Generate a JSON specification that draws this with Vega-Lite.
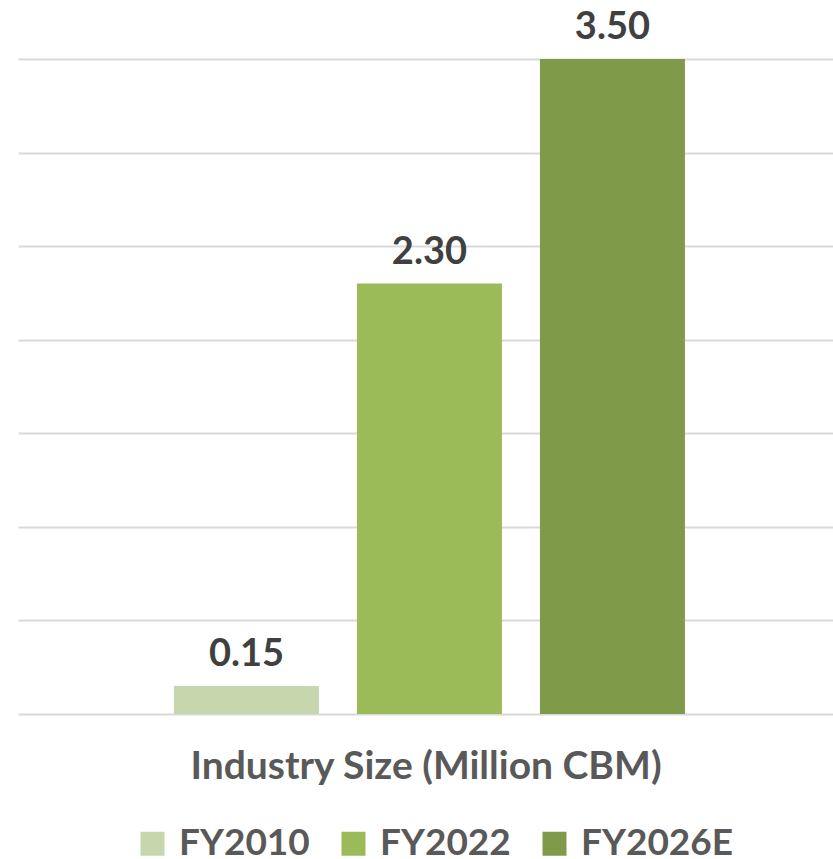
{
  "$schema": "https://vega.github.io/schema/vega-lite/v6.json",
  "width": 815,
  "height": 655,
  "autosize": {"type": "none"},
  "padding": {"left": 18, "top": 59, "right": 0, "bottom": 145},
  "background": "white",
  "config": {"view": {"stroke": null}, "font": "Lato"},
  "data": {"values": [
    {"series": "FY2010", "value": 0.15},
    {"series": "FY2022", "value": 2.30},
    {"series": "FY2026E", "value": 3.50}
  ]},
  "encoding": {
    "x": {
      "field": "series", "type": "nominal", "sort": ["FY2010", "FY2022", "FY2026E"],
      "scale": {"paddingInner": 0.2077, "paddingOuter": 0.8307, "align": 0.513},
      "axis": {
        "title": "Industry Size (Million CBM)", "labels": false, "ticks": false, "domain": false,
        "titleFont": "Lato", "titleFontSize": 39, "titleFontWeight": "bold", "titleColor": "#595959",
        "titlePadding": 33
      }
    },
    "y": {
      "field": "value", "type": "quantitative",
      "scale": {"domain": [0, 3.5], "nice": false},
      "axis": {
        "title": null, "labels": false, "ticks": false, "domain": false,
        "values": [0, 0.5, 1, 1.5, 2, 2.5, 3, 3.5],
        "grid": true, "gridColor": "#d9d9d9", "gridWidth": 2
      }
    }
  },
  "layer": [
    {
      "mark": {"type": "bar"},
      "encoding": {
        "color": {
          "field": "series", "type": "nominal", "sort": ["FY2010", "FY2022", "FY2026E"],
          "scale": {"domain": ["FY2010", "FY2022", "FY2026E"], "range": ["#c6d6ad", "#9bbb59", "#7f9a48"]},
          "legend": {
            "title": null, "orient": "none", "direction": "horizontal",
            "legendX": 116, "legendY": 766,
            "symbolType": "square", "symbolSize": 576, "symbolStrokeWidth": 0,
            "labelFont": "Lato", "labelFontSize": 37, "labelFontWeight": "bold", "labelColor": "#595959",
            "labelLimit": 400, "columnPadding": 25, "labelOffset": 8
          }
        }
      }
    },
    {
      "mark": {"type": "text", "baseline": "alphabetic", "dy": -20, "font": "Lato", "fontSize": 38, "fontWeight": "bold", "color": "#404040"},
      "encoding": {
        "text": {"field": "value", "type": "quantitative", "format": ".2f"}
      }
    }
  ]
}
